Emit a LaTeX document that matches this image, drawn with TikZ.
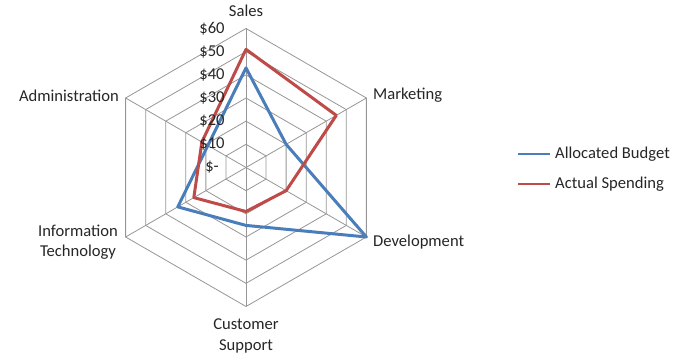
\documentclass[tikz,border=0pt]{standalone}
\usepackage{fontspec}
\setmainfont{Carlito}
\definecolor{gridgray}{RGB}{150,150,150}
\definecolor{budgetblue}{RGB}{74,126,187}
\definecolor{spendred}{RGB}{190,75,72}
\begin{document}
\begin{tikzpicture}[x=1pt,y=1pt,
  font=\fontsize{16.6}{20.5}\selectfont,
  gridline/.style={draw=gridgray, line width=0.8pt},
  series/.style={line width=3pt, line join=round},
  lbl/.style={inner sep=0pt, text=black!85},
  ticklbl/.style={inner sep=0pt, text=black!85, anchor=center}]
\useasboundingbox (0,0) rectangle (678,356);
\coordinate (c) at (246,188.5);
\begin{scope}[shift={(c)}]
  \def\R{139}
  % grid rings
  \foreach \k in {1,...,6}{
    \pgfmathsetmacro{\r}{\k*\R/6}
    \draw[gridline] (90:\r) -- (30:\r) -- (-30:\r) -- (-90:\r) -- (-150:\r) -- (150:\r) -- cycle;
  }
  % spokes
  \foreach \a/\n in {90/s,30/m,-30/d,-90/cs,-150/it,150/ad}{
    \coordinate (ax\n) at (\a:\R);
    \draw[gridline] (0,0) -- (ax\n);
  }
  % data
  \pgfmathsetmacro{\u}{\R/60}
  \coordinate (b1) at (90:43*\u);
  \coordinate (b2) at (30:20*\u);
  \coordinate (b3) at (-30:60*\u);
  \coordinate (b4) at (-90:25*\u);
  \coordinate (b5) at (-150:34*\u);
  \coordinate (b6) at (150:19*\u);
  \coordinate (r1) at (90:51*\u);
  \coordinate (r2) at (30:45*\u);
  \coordinate (r3) at (-30:20*\u);
  \coordinate (r4) at (-90:19*\u);
  \coordinate (r5) at (-150:26*\u);
  \coordinate (r6) at (150:22*\u);
  \draw[series, budgetblue] (b1) -- (b2) -- (b3) -- (b4) -- (b5) -- (b6) -- cycle;
  \draw[series, spendred] (r1) -- (r2) -- (r3) -- (r4) -- (r5) -- (r6) -- cycle;
  % tick labels
  \foreach \k/\t in {0/{\$-},1/{\$10},2/{\$20},3/{\$30},4/{\$40},5/{\$50},6/{\$60}}{
    \node[ticklbl] (tick\k) at (-34,\k*\R/6) {\t};
  }
\end{scope}
% axis labels
\node[lbl, anchor=center] (sales) at (246,345) {Sales};
\node[lbl, anchor=west] (mkt) at (373,261) {Marketing};
\node[lbl, anchor=west] (dev) at (373,114) {Development};
\node[lbl, align=center] (cs) at (246,20) {Customer\\Support};
\node[lbl, align=center] (it) at (78,114) {Information\\Technology};
\node[lbl, anchor=east] (adm) at (119,260) {Administration};
% legend
\coordinate (lb1) at (518,202);
\coordinate (lb2) at (550,202);
\coordinate (lr1) at (518,172);
\coordinate (lr2) at (550,172);
\draw[line width=2.2pt, budgetblue] (lb1) -- (lb2);
\draw[line width=2.2pt, spendred] (lr1) -- (lr2);
\node[lbl, anchor=west] (legb) at (555,202) {Allocated Budget};
\node[lbl, anchor=west] (legr) at (555,172) {Actual Spending};
\end{tikzpicture}
\end{document}
